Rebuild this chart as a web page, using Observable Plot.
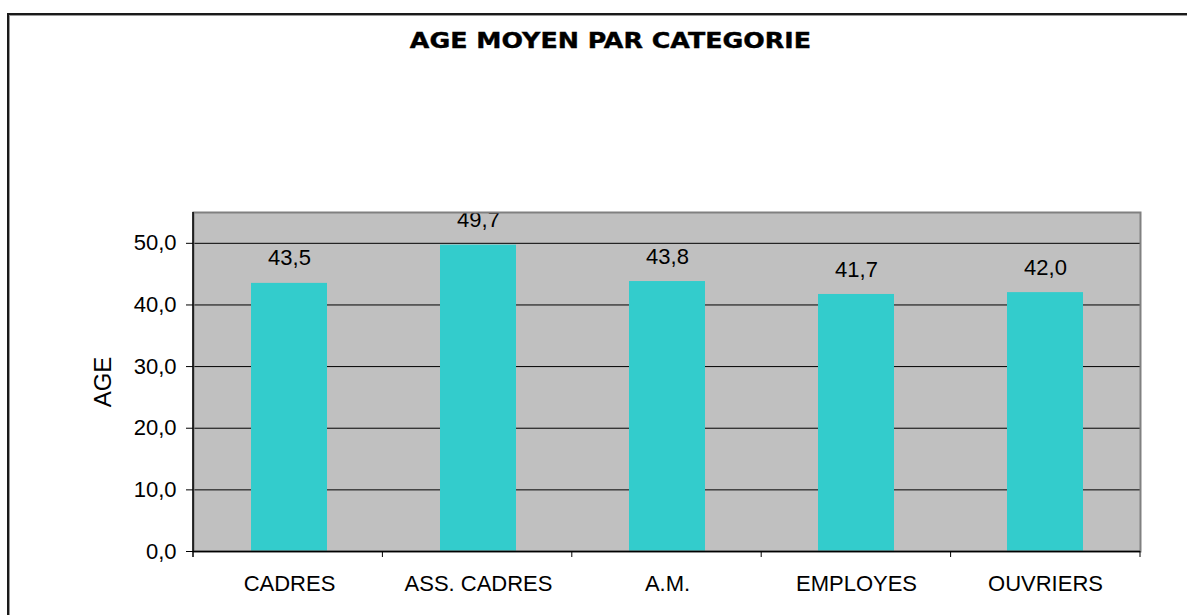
<!DOCTYPE html>
<html>
<head>
<meta charset="utf-8">
<script src="https://cdn.jsdelivr.net/npm/d3@7"></script>
<script src="https://cdn.jsdelivr.net/npm/@observablehq/plot@0.6"></script>
<style>
  html, body { margin: 0; padding: 0; background: #fff; overflow: hidden; }
  #wrap { position: relative; width: 1187px; height: 615px; overflow: hidden; }
  #border { position: absolute; left: 7px; top: 13px; width: 1300px; height: 700px;
            border-left: 2px solid #1a1a1a; border-top: 2px solid #1a1a1a; box-shadow: inset 1px 1px 0 #999; }
  #title { position: absolute; left: 0; width: 1220px; top: 30px; text-align: center;
           font-family: "DejaVu Sans", Verdana, sans-serif; font-weight: bold; font-size: 22px;
           line-height: 22px; color: #000; -webkit-text-stroke: 0.4px #000; }
  #title span { display: inline-block; transform: scaleX(1.15); transform-origin: center; }
  #chart { position: absolute; left: 0; top: 0; }
</style>
</head>
<body>
<div id="wrap">
  <div id="border"></div>
  <div id="title"><span>AGE MOYEN PAR CATEGORIE</span></div>
  <div id="chart"></div>
</div>
<script>
const categories = ["CADRES", "ASS. CADRES", "A.M.", "EMPLOYES", "OUVRIERS"];
const ages = [43.5, 49.7, 43.8, 41.7, 42.0];
const yTicks = [0, 10, 20, 30, 40, 50];
const yLabel = "AGE";

const data = categories.map((c, i) => ({category: c, age: ages[i]}));
const fmt = v => v.toFixed(1).replace(".", ",");
const font = "Liberation Sans, Arial, sans-serif";

function boundaryTicks(...args) {
  const dims = args.find(a => a && typeof a === "object" && "marginLeft" in a && "width" in a);
  const ns = "http://www.w3.org/2000/svg";
  const g = document.createElementNS(ns, "g");
  const left = dims.marginLeft, right = dims.width - dims.marginRight;
  const bottom = dims.height - dims.marginBottom, top = dims.marginTop;
  const n = categories.length;
  const ax = document.createElementNS(ns, "line");
  ax.setAttribute("x1", left); ax.setAttribute("x2", left);
  ax.setAttribute("y1", top); ax.setAttribute("y2", bottom + 6);
  ax.setAttribute("stroke", "#000"); ax.setAttribute("stroke-width", 1.5);
  g.appendChild(ax);
  for (let i = 1; i <= n; i++) {
    const x = left + i * (right - left) / n;
    const l = document.createElementNS(ns, "line");
    l.setAttribute("x1", x); l.setAttribute("x2", x);
    l.setAttribute("y1", bottom); l.setAttribute("y2", bottom + 6);
    l.setAttribute("stroke", "#000"); l.setAttribute("stroke-width", 1);
    g.appendChild(l);
  }
  return g;
}

const plot = Plot.plot({
  width: 1187,
  height: 615,
  marginLeft: 193,
  marginRight: 47,
  marginTop: 212,
  marginBottom: 64,
  style: {fontFamily: font, fontSize: "22px", color: "#000", background: "transparent"},
  x: {domain: categories, paddingInner: 0.6, paddingOuter: 0.3, label: null},
  y: {domain: [0, 55], label: null},
  marks: [
    Plot.frame({fill: "#C0C0C0", stroke: "none"}),
    Plot.ruleY(yTicks.filter(d => d > 0), {stroke: "#000", strokeWidth: 1}),
    Plot.barY(data, {x: "category", y: "age", fill: "#33CCCC"}),
    Plot.text(data, {x: "category", y: "age", text: d => fmt(d.age), dy: -25, fontSize: 22, fill: "#000"}),
    Plot.frame({stroke: "#808080", strokeWidth: 2}),
    Plot.ruleY([0], {stroke: "#000", strokeWidth: 1.5}),
    Plot.axisY({ticks: yTicks, tickFormat: fmt, tickSize: 7, tickPadding: 10, fontSize: 22, label: null}),
    Plot.text([yLabel], {frameAnchor: "left", textAnchor: "middle", rotate: -90, dx: -90, fontSize: 24, fill: "#000"}),
    Plot.axisX({tickSize: 0, tickPadding: 24, fontSize: 22, label: null}),
    boundaryTicks
  ]
});
document.getElementById("chart").appendChild(plot);
</script>
</body>
</html>
